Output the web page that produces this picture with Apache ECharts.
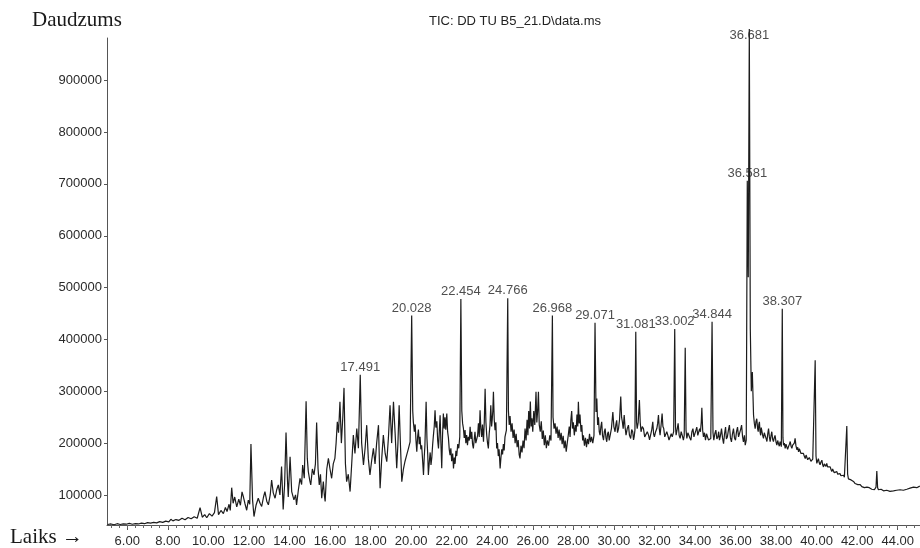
<!DOCTYPE html>
<html>
<head>
<meta charset="utf-8">
<script src="https://cdn.jsdelivr.net/npm/echarts@6/dist/echarts.min.js"></script>
<style>
  html, body { margin: 0; padding: 0; background: #ffffff; }
  #chart { width: 920px; height: 548px; }
</style>
</head>
<body>
<div id="chart"></div>
<script>
// ---------- DATA (retention time in min, abundance) ----------
const segA = [
  [5.03,43000],[5.2,44000],[5.35,42500],[5.5,44500],[5.65,43000],[5.8,44000],[5.95,43500],[6.1,45000],
  [6.25,43500],[6.4,44500],[6.55,44000],[6.7,45500],[6.85,44500],[7.0,46500],[7.15,45500],[7.3,47000],
  [7.45,46000],[7.6,48500],[7.75,47000],[7.9,49500],[8.05,48000],[8.15,53000],[8.25,50000],[8.4,52500],
  [8.55,51000],[8.7,55000],[8.85,52000],[9.0,56500],[9.15,54000],[9.3,58000],[9.45,55000],[9.59,75700],
  [9.7,57000],[9.82,62000],[9.92,56000],[10.05,64000],[10.18,59000],[10.3,66000],[10.41,97000],[10.5,62000],
  [10.62,70000],[10.74,64000],[10.84,76000],[10.92,68000],[11.02,82000],[11.08,70000],[11.15,114000],[11.22,84000],
  [11.3,96000],[11.4,77000],[11.5,92000],[11.58,80000],[11.66,106000],[11.73,96000],[11.8,84000],[11.89,70500],
  [11.97,90000],[12.04,82000]
];
const segB = [
  [12.1,198000],[12.18,90000],[12.25,58300],[12.35,80000],[12.46,93700],[12.55,84000],[12.63,77700],[12.72,96000],
  [12.79,106500],[12.88,88000],[12.96,80900],[13.05,100000],[13.12,128800],[13.2,104000],[13.29,93700],[13.37,110000],
  [13.45,119400],[13.53,100000],[13.61,154600],[13.69,71800],[13.76,120000],[13.83,220500],[13.9,130000],[13.94,96200],
  [14.03,173800],[14.11,106500],[14.22,90500],[14.3,100000],[14.35,80900],[14.44,110000],[14.52,132100],[14.6,120000],
  [14.65,157700],[14.73,132100],[14.82,280800],[14.88,170000],[14.93,145000],[15.0,128000],[15.05,119400],[15.13,150000],
  [15.21,138600],[15.28,160000],[15.34,239800],[15.41,150000],[15.47,119400],[15.53,140000],[15.59,93700],[15.67,125700],
  [15.72,100000],[15.76,87300],[15.84,150000],[15.92,170600],[16.0,150000],[16.08,132100],[16.16,160000],[16.24,170600],
  [16.3,200000],[16.36,241100],[16.42,220000],[16.49,279600],[16.56,200000],[16.63,250000],[16.69,306500],[16.76,160000],
  [16.82,125700],[16.9,140000],[16.99,106500],[17.07,160000],[17.15,215400],[17.23,180000],[17.32,228300],[17.4,190000]
];
const segC = [
  [17.491,332000],[17.56,200000],[17.65,157700],[17.73,190000],[17.81,234600],[17.89,170000],[17.97,138500],[18.05,165000],
  [18.14,189800],[18.22,160000],[18.3,200000],[18.39,234600],[18.47,112900],[18.55,170000],[18.63,215400],[18.72,180000],
  [18.8,164100],[18.88,210000],[18.96,273100],[19.04,200000],[19.13,279600],[19.21,220000],[19.29,151300],[19.35,200000],
  [19.41,273100],[19.48,190000],[19.54,125700],[19.62,150000],[19.7,165000],[19.78,176900],[19.87,190000],[19.95,202500],
  [20.028,446000],[20.08,262000],[20.11,241000],[20.16,222000],[20.2,236000],[20.24,205000],[20.28,183500],[20.32,212000],
  [20.36,226000],[20.4,198000],[20.44,212000],[20.48,188000],[20.52,196000],[20.57,165000],[20.61,138500],[20.65,175000],
  [20.68,195000],[20.74,279600],[20.78,210000],[20.82,178000],[20.85,138500],[20.9,165000],[20.94,182000],[20.98,158000],
  [21.02,172000],[21.06,196000],[21.1,215000],[21.14,232000],[21.18,263500],[21.22,230000],[21.27,242000],[21.31,205000],
  [21.35,189800],[21.39,222000],[21.43,253800],[21.47,200000],[21.51,151300],[21.55,215000],[21.59,257100],[21.63,228000],
  [21.67,250000],[21.71,226000],[21.76,257100],[21.8,222000],[21.84,210000],[21.88,188000],[21.92,176900],[21.96,190000],
  [22.0,165000],[22.05,180000],[22.09,151300],[22.13,172000],[22.17,160000],[22.21,185000],[22.25,175000],[22.3,198000],
  [22.35,190000],[22.4,212000],[22.454,478000],[22.5,262000],[22.54,238000],[22.58,228300],[22.62,210000],[22.66,225000],
  [22.7,200000],[22.74,215400],[22.78,196000],[22.82,212000],[22.87,205000],[22.91,231500],[22.95,208000],[22.99,222000],
  [23.03,198000],[23.07,189800],[23.11,206000],[23.15,222000],[23.19,200000],[23.24,196200],[23.28,215000],[23.32,238000],
  [23.36,212000],[23.4,263500],[23.44,228000],[23.48,212000],[23.52,236000],[23.57,202500],[23.61,242000],[23.65,305000],
  [23.69,240000],[23.73,215000],[23.77,200000],[23.81,189800],[23.85,218000],[23.89,235000],[23.93,273100],[23.97,232000],
  [24.0,245000],[24.03,262000]
];
const segD = [
  [24.06,298800],[24.1,245000],[24.14,225000],[24.18,240000],[24.22,189800],[24.26,200000],[24.3,175000],[24.34,188000],
  [24.39,151300],[24.43,172000],[24.47,188000],[24.51,178000],[24.55,198000],[24.59,186000],[24.63,212000],[24.7,225000],
  [24.766,479600],[24.8,262000],[24.84,235000],[24.88,252000],[24.93,222000],[24.98,238000],[25.03,210000],[25.08,226000],
  [25.13,200000],[25.18,218000],[25.23,192000],[25.28,206000],[25.33,178000],[25.37,170600],[25.42,195000],[25.47,182000],
  [25.52,205000],[25.57,190000],[25.62,228000],[25.67,205000],[25.72,245000],[25.76,215000],[25.8,262000],[25.84,228000],
  [25.88,280000],[25.92,232000],[25.96,248000],[26.0,222000],[26.05,262000],[26.1,235000],[26.16,298800],[26.2,240000],
  [26.24,262000],[26.28,298800],[26.32,235000],[26.37,222000],[26.42,242000],[26.47,208000],[26.52,224000],[26.57,196000],
  [26.62,215000],[26.67,190000],[26.72,205000],[26.78,195000],[26.84,215000],[26.9,205000],[26.968,446000],[27.0,250000],
  [27.05,228000],[27.1,238000],[27.15,218000],[27.2,232000],[27.25,210000],[27.3,226000],[27.35,205000],[27.4,220000],
  [27.45,198000],[27.5,214000],[27.55,190000],[27.6,205000],[27.65,183500],[27.7,200000],[27.75,215000],[27.8,232000],
  [27.84,212000],[27.88,245000],[27.92,262000],[27.96,228000],[28.0,240000],[28.05,215000],[28.1,235000],[28.14,222000],
  [28.18,255000],[28.22,232000],[28.25,279600],[28.29,238000],[28.33,255000],[28.38,222000],[28.42,235000],[28.46,205000],
  [28.5,215000],[28.55,195000],[28.6,210000],[28.65,192000],[28.7,208000],[28.75,198000],[28.8,218000],[28.85,202000],
  [28.9,212000],[28.96,200000],[29.02,215000],[29.071,432000],[29.12,260000],[29.16,286000],[29.2,235000],[29.24,250000],
  [29.28,222000]
];
const segE = [
  [29.32,215400],[29.36,232000],[29.4,241000],[29.44,215000],[29.49,205700],[29.53,222000],[29.57,228000],[29.61,210000],
  [29.65,202500],[29.69,218000],[29.73,221900],[29.77,205000],[29.81,202500],[29.88,228000],[29.95,260000],[30.0,232000],
  [30.06,221900],[30.1,236000],[30.14,244000],[30.18,220000],[30.23,228000],[30.28,245000],[30.34,290000],[30.38,250000],
  [30.42,241000],[30.46,228000],[30.51,254000],[30.55,232000],[30.6,215400],[30.66,228000],[30.72,234600],[30.77,215000],
  [30.83,209000],[30.88,226000],[30.93,221900],[30.97,206000],[31.0,212000],[31.04,225000],[31.081,415000],[31.12,240000],
  [31.15,228000],[31.2,240000],[31.26,283000],[31.3,240000],[31.34,221900],[31.4,232000],[31.46,228000],[31.52,212000],
  [31.59,209000],[31.65,222000],[31.71,215400],[31.76,206000],[31.82,205700],[31.87,226000],[31.92,241000],[31.96,218000],
  [32.0,212000],[32.06,222000],[32.12,228000],[32.16,238000],[32.2,254000],[32.24,228000],[32.28,215400],[32.33,235000],
  [32.38,257000],[32.42,232000],[32.46,228000],[32.51,212000],[32.56,209000],[32.61,222000],[32.66,215400],[32.72,206000],
  [32.78,205700],[32.83,218000],[32.88,212000],[32.95,222000],[33.002,420000],[33.04,232000],[33.07,215400],[33.12,226000],
  [33.17,238000],[33.22,215000],[33.27,209000],[33.32,222000],[33.37,215400],[33.43,205700],[33.47,215000],[33.52,384000],
  [33.56,225000],[33.6,209000],[33.65,220000],[33.7,221900],[33.75,210000],[33.8,205700],[33.85,222000],[33.9,228000],
  [33.95,212000],[34.0,209000],[34.05,225000],[34.09,231000],[34.14,215000],[34.19,212000],[34.23,228000],[34.27,221900],
  [34.31,240000],[34.34,268000],[34.38,225000],[34.42,212000],[34.47,220000],[34.52,205700],[34.57,218000],[34.62,215400],
  [34.67,206000],[34.72,202500],[34.78,209000],[34.844,434000],[34.89,220000],[34.93,205700],[34.98,218000],[35.03,225000],
  [35.08,208000],[35.13,212000],[35.17,222000],[35.21,205700],[35.26,215000],[35.31,228000],[35.36,210000],[35.41,199000],
  [35.46,218000],[35.51,231000],[35.55,208000],[35.6,212000],[35.65,225000],[35.7,234600],[35.75,210000],[35.8,202500],
  [35.85,218000],[35.9,228000],[35.95,210000],[36.0,205700],[36.05,222000],[36.1,231000],[36.15,212000],[36.2,209000],
  [36.25,226000],[36.3,234600],[36.35,212000],[36.39,202500],[36.44,215000],[36.48,196000],[36.53,205700]
];
const segF = [
  [36.581,706000],[36.63,520000],[36.681,999000],[36.73,420000],[36.78,300000],[36.83,337000],[36.89,253800],[36.93,238000],
  [36.97,228000],[37.01,242000],[37.05,247000],[37.09,228000],[37.12,222000],[37.15,236000],[37.18,241000],[37.21,222000],
  [37.24,215000],[37.27,230000],[37.3,228000],[37.34,215000],[37.38,209000],[37.42,220000],[37.46,222000],[37.5,210000],
  [37.55,203000],[37.59,218000],[37.63,228000],[37.67,212000],[37.71,203000],[37.75,214000],[37.79,222000],[37.83,208000],
  [37.87,203000],[37.91,210000],[37.95,215000],[38.0,202000],[38.04,196000],[38.08,205000],[38.12,199000],[38.16,194000],
  [38.2,203000],[38.26,193000],[38.307,459000],[38.34,210000],[38.37,196000],[38.41,200000],[38.45,190000],[38.49,198000],
  [38.53,196000],[38.57,188000],[38.61,193000],[38.66,198000],[38.7,203000],[38.74,194000],[38.78,190000],[38.82,196000],
  [38.86,193000],[38.9,200000],[38.94,209000],[38.98,195000],[39.03,187000],[39.07,192000],[39.11,183000],[39.15,189000],
  [39.19,187000],[39.23,180000],[39.27,177000],[39.31,183000],[39.35,180000],[39.4,174000],[39.44,170000],[39.48,177000],
  [39.52,174000],[39.56,168000],[39.6,167000],[39.64,172000],[39.68,170000],[39.72,165000],[39.76,164000],[39.81,169000],
  [39.85,167000],[39.89,172000],[39.93,360000],[39.97,175000],[40.01,161000],[40.05,166000],[40.09,170000],[40.13,162000],
  [40.17,158000],[40.21,163000],[40.26,167000],[40.3,158000],[40.34,154000],[40.38,160000],[40.42,158000],[40.46,155000],
  [40.5,161000],[40.54,154000],[40.58,151000],[40.62,156000],[40.67,154000],[40.71,149000],[40.75,145000],[40.79,150000],
  [40.83,148000],[40.87,143000],[40.91,141000],[40.96,146000],[41.0,145000],[41.04,140000],[41.08,138000],[41.12,142000],
  [41.16,141000],[41.2,137000],[41.24,135000],[41.28,139000],[41.33,138000],[41.37,134000],[41.41,132000],[41.45,136000],
  [41.49,233000],[41.53,140000],[41.57,131000],[41.61,134000],[41.65,133000],[41.7,129000],[41.74,127000],[41.78,129000],
  [41.82,126000],[41.86,124000],[41.9,122000],[41.94,125000],[41.98,123000],[42.03,120000],[42.07,118000],[42.11,121000],
  [42.15,120000],[42.19,117000],[42.23,116000],[42.28,118000],[42.32,117000],[42.36,114000],[42.4,114000],[42.44,116000],
  [42.48,115000],[42.52,112000],[42.56,112000],[42.6,114000],[42.64,113000],[42.68,111000],[42.72,111000],[42.77,113000],
  [42.81,113000],[42.85,110000],[42.89,110000],[42.93,115000],[42.97,146000],[43.01,114000],[43.05,110000],[43.09,111000],
  [43.13,109000],[43.18,111000],[43.22,110000],[43.26,108000],[43.3,108000],[43.38,110000],[43.46,109000],[43.54,107000],
  [43.62,107000],[43.7,109000],[43.79,108000],[43.87,110000],[43.95,109000],[44.03,111000],[44.12,110000],[44.2,108000],
  [44.28,109000],[44.36,112000],[44.45,111000],[44.53,114000],[44.61,113000],[44.7,116000],[44.78,115000],[44.86,113000],
  [44.94,114000],[45.02,116000],[45.09,117000]
];
const peakLabels = ['17.491','20.028','22.454','24.766','26.968','29.071','31.081','33.002','34.844','36.581','36.681','38.307'];
const xTickValues = [6,8,10,12,14,16,18,20,22,24,26,28,30,32,34,36,38,40,42,44];
const yTickValues = [100000,200000,300000,400000,500000,600000,700000,800000,900000];

// ---------- BUILD ----------
const tic = [].concat(segA, segB, segC, segD, segE, segF);
const X_MIN = 5.0, X_MAX = 45.1, Y_MIN = 42000, Y_MAX = 981500;
const LABEL_CAP = 972000;

const peakPoints = peakLabels.map(function (s) {
  const t = parseFloat(s);
  let best = null;
  tic.forEach(function (p) { if (Math.abs(p[0] - t) < 0.005 && (!best || p[1] > best[1])) best = p; });
  return { name: s, value: [t, Math.min(best[1], LABEL_CAP)] };
});

const minorTicks = [];
for (let i = 0; i * 0.4 + 5.2 <= 45.0; i++) minorTicks.push(+(5.2 + i * 0.4).toFixed(2));

const sansFont = 'Liberation Sans, Arial, sans-serif';
const serifFont = '"Liberation Serif", "Times New Roman", serif';

const chart = echarts.init(document.getElementById('chart'), null, { renderer: 'canvas' });
chart.setOption({
  animation: false,
  backgroundColor: '#ffffff',
  grid: { left: 107, right: 0, top: 38, bottom: 21, containLabel: false },
  xAxis: [{
    type: 'value', min: X_MIN, max: X_MAX,
    axisLine: { show: true, lineStyle: { color: '#555', width: 1 } },
    axisTick: { show: true, customValues: xTickValues, length: 5, lineStyle: { color: '#555' } },
    axisLabel: {
      customValues: xTickValues, margin: 10,
      formatter: function (v) { return v.toFixed(2); },
      color: '#2a2a2a', fontFamily: sansFont, fontSize: 13
    },
    splitLine: { show: false }
  }, {
    type: 'value', min: X_MIN, max: X_MAX, position: 'bottom',
    axisLine: { show: false },
    axisTick: { show: true, customValues: minorTicks, length: 3, lineStyle: { color: '#666' } },
    axisLabel: { show: false },
    splitLine: { show: false }
  }],
  yAxis: {
    type: 'value', min: Y_MIN, max: Y_MAX,
    axisLine: { show: true, lineStyle: { color: '#555', width: 1 } },
    axisTick: { show: true, customValues: yTickValues, length: 3, lineStyle: { color: '#555' } },
    axisLabel: {
      customValues: yTickValues, margin: 5,
      formatter: function (v) { return String(v); },
      color: '#2a2a2a', fontFamily: sansFont, fontSize: 13
    },
    splitLine: { show: false }
  },
  graphic: [
    { type: 'text', left: 32, top: 10, style: { text: 'Daudzums', font: '21px ' + serifFont, fill: '#1a1a1a' } },
    { type: 'text', left: 10, top: 527, style: { text: 'Laiks \u2192', font: '21px ' + serifFont, fill: '#1a1a1a' } },
    { type: 'text', x: 515, y: 21, style: { text: 'TIC: DD TU B5_21.D\\data.ms', font: '13px ' + sansFont, fill: '#222', align: 'center', verticalAlign: 'middle' } }
  ],
  series: [{
    type: 'line', xAxisIndex: 0, yAxisIndex: 0,
    data: tic, showSymbol: false, symbol: 'none', clip: false, sampling: null,
    lineStyle: { color: '#1c1c1c', width: 1.2 },
    emphasis: { disabled: true }, silent: true
  }, {
    type: 'scatter', xAxisIndex: 0, yAxisIndex: 0,
    data: peakPoints, symbolSize: 0, silent: true,
    label: {
      show: true, position: 'top', distance: 1,
      formatter: function (p) { return p.name; },
      color: '#222', fontFamily: sansFont, fontSize: 13
    },
    z: 5
  }]
});
</script>
</body>
</html>
